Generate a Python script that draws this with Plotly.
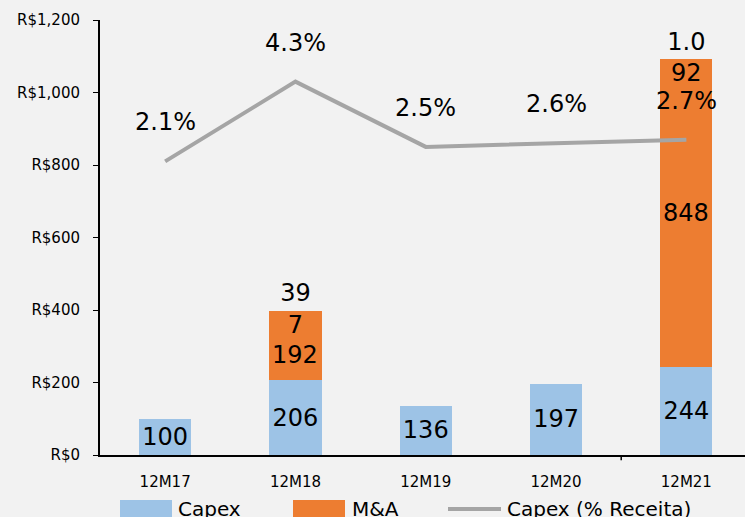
import plotly.graph_objects as go

periodos = ["12M17", "12M18", "12M19", "12M20", "12M21"]
capex = [100, 206, 136, 197, 244]
mna = [0, 192, 0, 0, 848]
mna_txt = ["", "192", "", "", "848"]
totais = [None, 397, None, None, 1092]
totais_txt = ["", "39<br>7", "", "", "1.0<br>92"]
capex_pct = [2.1, 4.3, 2.5, 2.6, 2.7]
capex_pct_txt = ["2.1%", "4.3%", "2.5%", "2.6%", "2.7%"]

FONTE = "DejaVu Sans"
AZUL = "#9DC3E6"
LARANJA = "#ED7D31"
CINZA = "#A5A5A5"
FUNDO = "#F2F2F2"

fig = go.Figure()

fig.add_trace(go.Bar(
    x=periodos, y=capex, name="Capex", marker=dict(color=AZUL, line=dict(width=0)),
    text=[str(v) for v in capex], textposition="inside", insidetextanchor="middle",
    textfont=dict(size=24, color="black", family=FONTE), width=0.4, showlegend=False,
))
fig.add_trace(go.Bar(
    x=periodos, y=mna, name="M&A", marker=dict(color=LARANJA, line=dict(width=0)),
    width=0.4, showlegend=False,
))
fig.add_trace(go.Scatter(
    x=periodos, y=totais, mode="text", text=totais_txt, textposition="middle center",
    textfont=dict(size=24, color="black", family=FONTE), showlegend=False, hoverinfo="skip",
))
fig.add_trace(go.Scatter(
    x=periodos, y=capex_pct, name="Capex (% Receita)", mode="lines", yaxis="y2",
    line=dict(color=CINZA, width=4), showlegend=False,
))

# rótulos de M&A (um pouco abaixo do centro em 12M18, como no original)
for p, c, m, t in zip(periodos, capex, mna, mna_txt):
    if t:
        fig.add_annotation(x=p, y=c + m / 2, text=t, showarrow=False,
                           yshift=-9 if m < 300 else 0,
                           font=dict(size=24, color="black", family=FONTE))

for p, v, t in zip(periodos, capex_pct, capex_pct_txt):
    fig.add_annotation(x=p, y=v, yref="y2", text=t, showarrow=False, yshift=39,
                       font=dict(size=24, color="black", family=FONTE))

# tick solto no eixo x
fig.add_shape(type="line", xref="x", yref="paper", x0=3.5, x1=3.5, y0=0, y1=-0.012,
              line=dict(color="black", width=1.5))

# legenda manual
W = 645
H = 435
def px(x):
    return (x - 100) / W
def py(y):
    return (455 - y) / H

itens = [
    ("rect", AZUL, 120, 172, "Capex", 176),
    ("rect", LARANJA, 293, 345, "M&A", 350),
    ("line", CINZA, 448, 501, "Capex (% Receita)", 505),
]
for tipo, cor, x0, x1, rot, xt in itens:
    if tipo == "rect":
        fig.add_shape(type="rect", xref="paper", yref="paper", x0=px(x0), x1=px(x1),
                      y0=py(500), y1=py(520), fillcolor=cor, line=dict(width=0))
    else:
        fig.add_shape(type="line", xref="paper", yref="paper", x0=px(x0), x1=px(x1),
                      y0=py(509), y1=py(509), line=dict(color=cor, width=4))
    fig.add_annotation(xref="paper", yref="paper", x=px(xt), y=py(509), text=rot,
                       showarrow=False, xanchor="left", yanchor="middle",
                       font=dict(size=20, color="black", family=FONTE))

fig.update_layout(
    barmode="stack",
    width=745, height=517,
    margin=dict(l=100, r=0, t=20, b=62),
    paper_bgcolor=FUNDO, plot_bgcolor=FUNDO,
    font=dict(family=FONTE, color="black"),
    xaxis=dict(range=[-0.5, 4.45], showline=True, linecolor="black", linewidth=2,
               ticks="", showgrid=False, tickfont=dict(size=15, color="black"),
               ticklabelstandoff=12),
    yaxis=dict(range=[0, 1200], dtick=200, tickprefix="R$", tickformat=",",
               showline=True, linecolor="black", linewidth=2, ticks="outside",
               ticklen=5, tickcolor="black", showgrid=False, zeroline=False,
               tickfont=dict(size=15, color="black"), ticklabelstandoff=10),
    yaxis2=dict(range=[-6, 6], overlaying="y", visible=False),
)

fig.write_html("out.html", config={"displayModeBar": False},
               post_script="document.body.style.margin='0';document.body.style.overflow='hidden';")
